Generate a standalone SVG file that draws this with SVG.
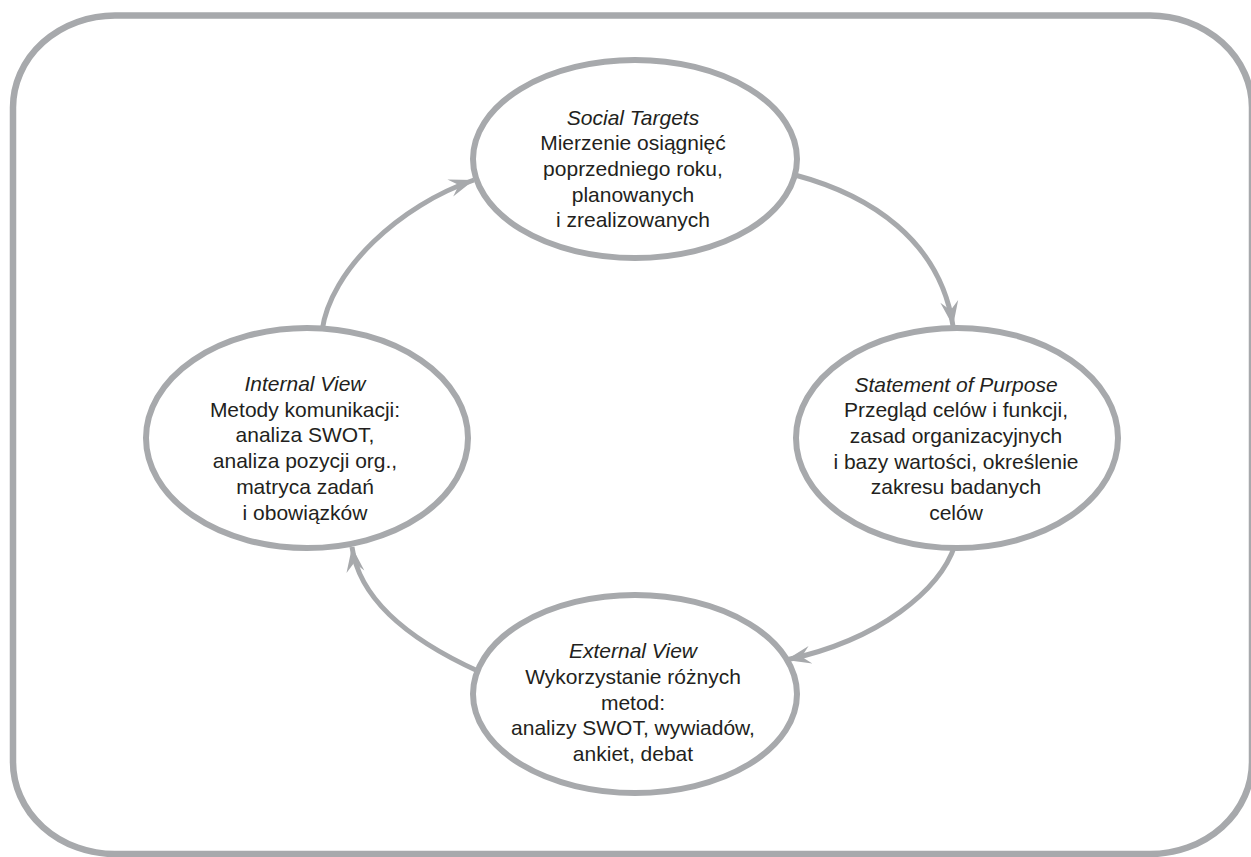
<svg xmlns="http://www.w3.org/2000/svg" width="1251" height="857" viewBox="0 0 1251 857">
<style>
.frame{fill:none;stroke:#a7a9ac;stroke-width:6.5}
.node{fill:#ffffff;stroke:#a7a9ac;stroke-width:6}
.conn{fill:none;stroke:#a7a9ac;stroke-width:5;marker-end:url(#ah)}
.t{font-family:"Liberation Sans",Arial,sans-serif;font-size:21px;fill:#231f20;text-anchor:middle}
.h{font-style:italic}
</style>
<defs>
<marker id="ah" markerUnits="userSpaceOnUse" markerWidth="30" markerHeight="24" viewBox="-27 -12 30 24" refX="0" refY="0" orient="auto">
<path d="M0,0 L-25,-9 L-16,0 L-25,9 Z" fill="#a7a9ac"/>
</marker>
</defs>
<rect class="frame" x="13" y="15.5" width="1239" height="838.5" rx="102" ry="92"/>
<g id="connectors">
<path class="conn" d="M795,175 C870,195 940,240 953,326"/>
<path class="conn" d="M955,545 C940,590 880,640 786,660"/>
<path class="conn" d="M480,672 C420,645 360,605 352,547"/>
<path class="conn" d="M322,331 C330,270 400,205 474,180"/>
</g>
<g id="social-targets">
<ellipse class="node" cx="635" cy="159" rx="162" ry="99"/>
<text class="t" x="633" y="124.5"><tspan class="h">Social Targets</tspan><tspan x="633" dy="25.7">Mierzenie osiągnięć</tspan><tspan x="633" dy="25.7">poprzedniego roku,</tspan><tspan x="633" dy="25.7">planowanych</tspan><tspan x="633" dy="25.7">i zrealizowanych</tspan></text>
</g>
<g id="statement-of-purpose">
<ellipse class="node" cx="957" cy="438" rx="161" ry="110"/>
<text class="t" x="956" y="391.5"><tspan class="h">Statement of Purpose</tspan><tspan x="956" dy="25.7">Przegląd celów i funkcji,</tspan><tspan x="956" dy="25.7">zasad organizacyjnych</tspan><tspan x="956" dy="25.7">i bazy wartości, określenie</tspan><tspan x="956" dy="25.7">zakresu badanych</tspan><tspan x="956" dy="25.7">celów</tspan></text>
</g>
<g id="external-view">
<ellipse class="node" cx="635" cy="694" rx="162" ry="99"/>
<text class="t" x="633" y="658.3"><tspan class="h">External View</tspan><tspan x="633" dy="25.7">Wykorzystanie różnych</tspan><tspan x="633" dy="25.7">metod:</tspan><tspan x="633" dy="25.7">analizy SWOT, wywiadów,</tspan><tspan x="633" dy="25.7">ankiet, debat</tspan></text>
</g>
<g id="internal-view">
<ellipse class="node" cx="307" cy="438" rx="161" ry="110"/>
<text class="t" x="305" y="391"><tspan class="h">Internal View</tspan><tspan x="305" dy="25.7">Metody komunikacji:</tspan><tspan x="305" dy="25.7">analiza SWOT,</tspan><tspan x="305" dy="25.7">analiza pozycji org.,</tspan><tspan x="305" dy="25.7">matryca zadań</tspan><tspan x="305" dy="25.7">i obowiązków</tspan></text>
</g>
</svg>
